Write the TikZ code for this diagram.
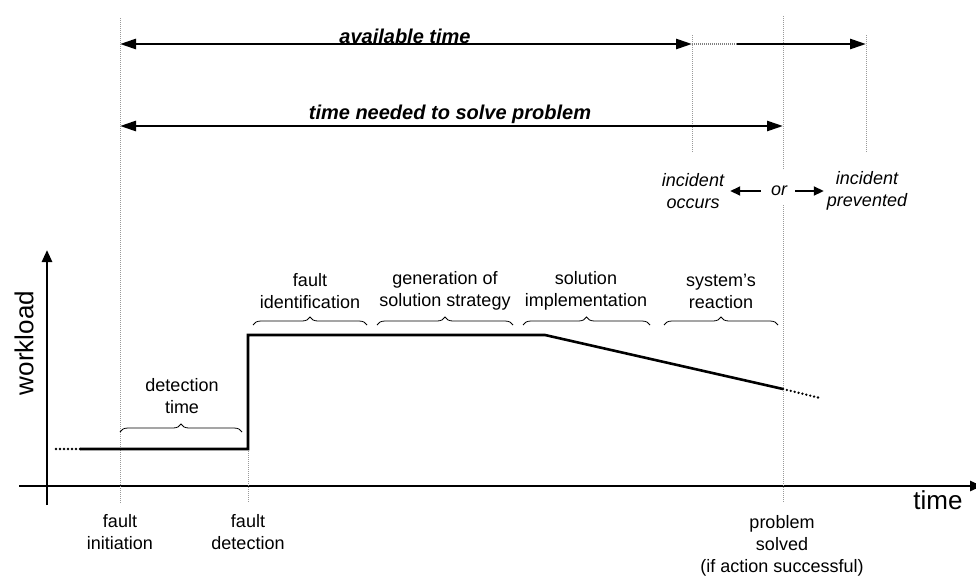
\documentclass[tikz,border=0pt]{standalone}
\usepackage{fontspec}
\setmainfont{Liberation Sans}
\usetikzlibrary{arrows.meta,decorations.pathreplacing}

\tikzset{
  markline/.style={gray!80, line width=1pt, dash pattern=on 1pt off 1pt},
  curve/.style={black, line width=2.6pt},
  dotline/.style={black, line width=2.6pt, line cap=round, dash pattern=on 0pt off 4pt},
  span/.style={black, line width=2.6pt, {Triangle[length=16pt,width=10pt]}-{Triangle[length=16pt,width=10pt]}},
  halfspan/.style={black, line width=2.6pt, -{Triangle[length=16pt,width=10pt]}},
  orarrow/.style={black, line width=2pt, -{Triangle[length=10pt,width=9pt]}},
  phasebrace/.style={decorate, decoration={brace, amplitude=8pt}, line width=0.8pt},
  lbl/.style={font=\fontsize{18}{22}\selectfont, align=center, inner sep=0pt},
  ital/.style={lbl, font=\fontsize{18}{22}\selectfont\itshape},
  big/.style={font=\fontsize{26}{30}\selectfont, inner sep=0pt},
  spantext/.style={font=\fontsize{20}{24}\selectfont\bfseries\itshape, inner sep=0pt, anchor=base},
}

\begin{document}
\begin{tikzpicture}[x=1pt, y=-1pt]
  \useasboundingbox (0,0) rectangle (976,576);

  % axes
  \coordinate (xstart) at (19,486);
  \coordinate (xend) at (982,486);
  \coordinate (ystart) at (47,505);
  \coordinate (yend) at (47,250);
  \draw [line width=2.6pt, -{Triangle[length=12pt,width=10pt]}] (xstart) -- (xend);
  \draw [line width=2.6pt, -{Triangle[length=12pt,width=10pt]}] (ystart) -- (yend);
  \node [big] (timelbl) at (938,500) {time};
  \node [big, rotate=90] (loadlbl) at (24,343) {workload};

  % time marks
  \draw [markline] (120,18) -- (120,503);
  \draw [markline] (248,449) -- (248,503);
  \draw [markline] (692,35) -- (692,152);
  \draw [markline] (783,16) -- (783,170);
  \draw [markline] (783,205) -- (783,503);
  \draw [markline] (866,35) -- (866,152);

  % workload curve
  \coordinate (w0) at (56,449);
  \coordinate (w1) at (80,449);
  \coordinate (w2) at (248,449);
  \coordinate (w3) at (248,335);
  \coordinate (w4) at (545,335);
  \coordinate (w5) at (783,389);
  \coordinate (w6) at (820,398);
  \draw [dotline] (w0) -- (w1);
  \draw [curve] (w1) -- (w2) -- (w3) -- (w4) -- (w5);
  \draw [dotline] (w5) -- (w6);

  % spans at the top
  \coordinate (avail0) at (120,44);
  \coordinate (avail1) at (692,44);
  \coordinate (avail2) at (737,44);
  \coordinate (avail3) at (866,44);
  \draw [span] (avail0) -- (avail1);
  \draw [line width=2.6pt, gray, dash pattern=on 1pt off 1pt] (avail1) -- (avail2);
  \draw [halfspan] (avail2) -- (avail3);
  \node [spantext] (availtxt) at (405,43) {available time};

  \coordinate (need0) at (120,126);
  \coordinate (need1) at (783,126);
  \draw [span] (need0) -- (need1);
  \node [spantext] (needtxt) at (450,119) {time needed to solve problem};

  % outcome
  \node [ital] (occurs) at (693,191) {incident\\occurs};
  \node [ital] (ortxt) at (779,191) {or};
  \node [ital] (prevented) at (867,191) {incident\\prevented};
  \draw [orarrow, shorten <=10pt, shorten >=6pt] (ortxt.west) -- (occurs.east);
  \draw [orarrow, shorten <=8pt, shorten >=3pt] (ortxt.east) -- (prevented.west);

  % phases
  \draw [phasebrace] (120,432) -- (242,432);
  \draw [phasebrace] (253,325) -- (367,325);
  \draw [phasebrace] (377,325) -- (513,325);
  \draw [phasebrace] (523,325) -- (650,325);
  \draw [phasebrace] (664,325) -- (778,325);
  \node [lbl] (detect) at (182,396) {detection\\time};
  \node [lbl] (ident) at (310,291) {fault\\identification};
  \node [lbl] (strategy) at (445,291) {generation of\\solution strategy};
  \node [lbl] (implement) at (586,291) {solution\\implementation};
  \node [lbl] (reaction) at (721,291) {system’s\\reaction};

  % events on the time axis
  \node [lbl] (init) at (120,532) {fault\\initiation};
  \node [lbl] (detection) at (248,532) {fault\\detection};
  \node [lbl] (solved) at (782,546) {problem\\solved\\(if action successful)};
\end{tikzpicture}
\end{document}
